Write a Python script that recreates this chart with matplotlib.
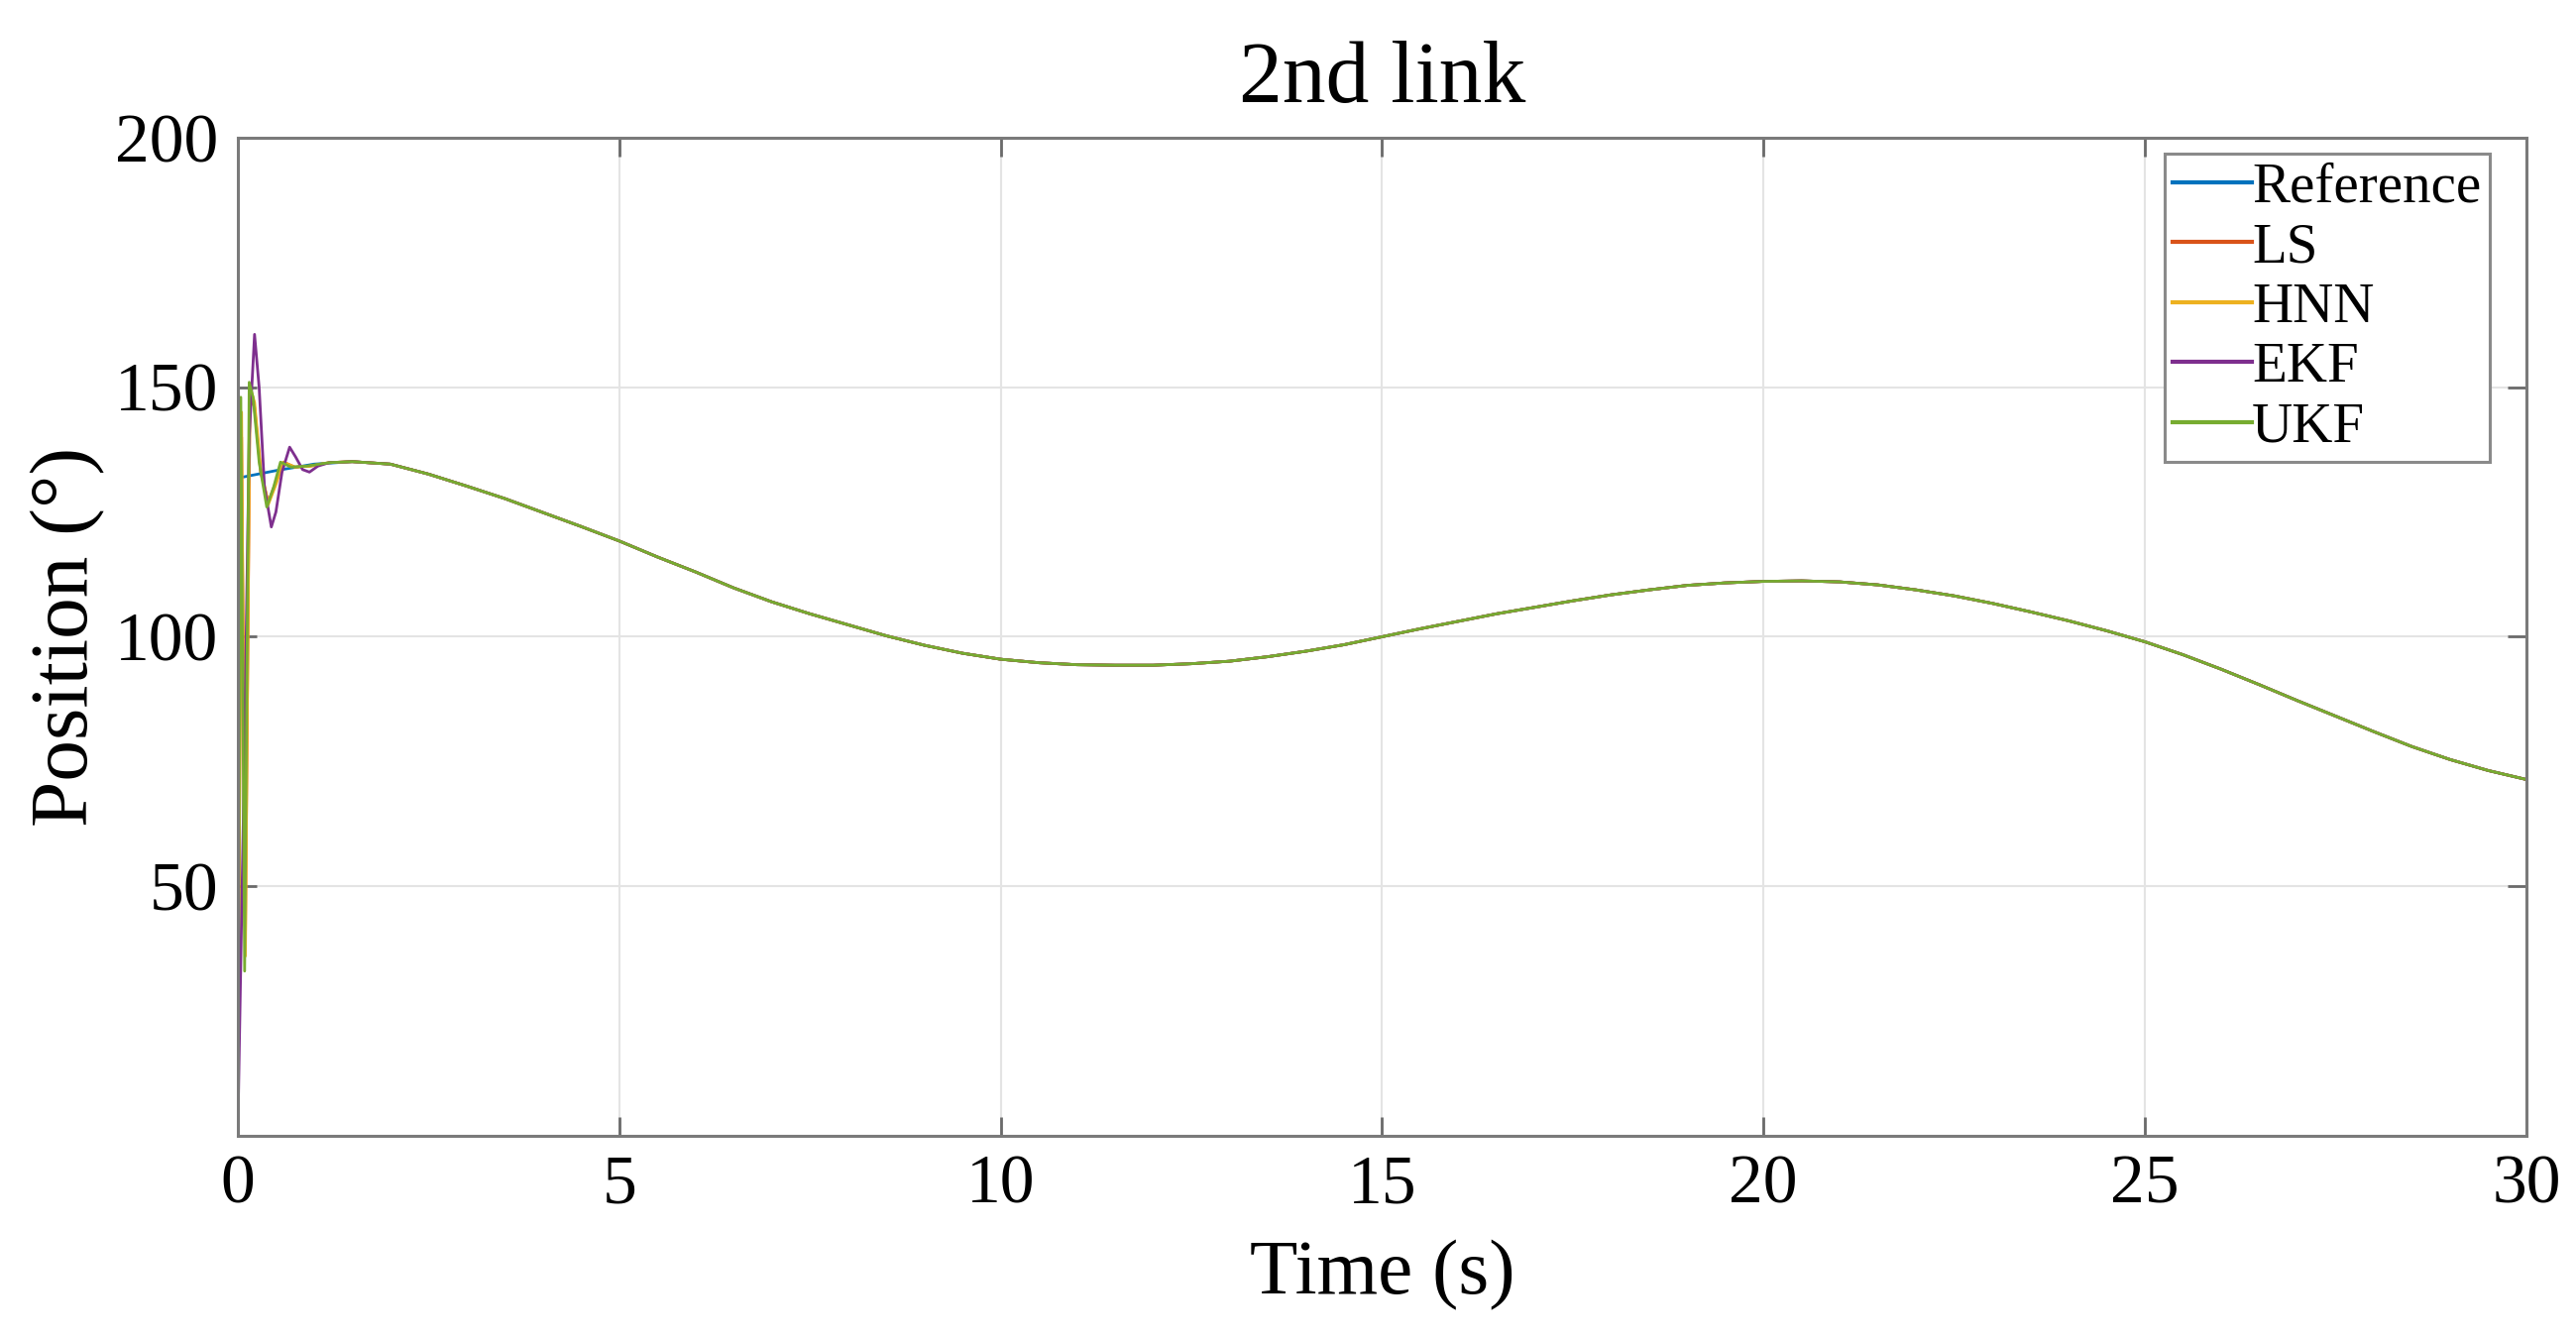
import numpy as np
import matplotlib
matplotlib.use("Agg")
import matplotlib.pyplot as plt

plt.rcParams['font.family'] = ['Liberation Serif', 'DejaVu Serif']

# common trajectory (all series overlap after the transient)
t_main = [1.5, 2.0, 2.5, 3.0, 3.5, 4.0, 4.5, 5.0, 5.5, 6.0, 6.5, 7.0, 7.5, 8.0, 8.5,
          9.0, 9.5, 10.0, 10.5, 11.0, 11.5, 12.0, 12.5, 13.0, 13.5, 14.0, 14.5, 15.0,
          15.5, 16.0, 16.5, 17.0, 17.5, 18.0, 18.5, 19.0, 19.5, 20.0, 20.5, 21.0, 21.5,
          22.0, 22.5, 23.0, 23.5, 24.0, 24.5, 25.0, 25.5, 26.0, 26.5, 27.0, 27.5, 28.0,
          28.5, 29.0, 29.5, 30.0]
pos_main = [135.1, 134.6, 132.6, 130.2, 127.7, 124.9, 122.1, 119.2, 116.0, 113.0,
            109.8, 107.0, 104.6, 102.4, 100.2, 98.3, 96.7, 95.5, 94.8, 94.4, 94.3,
            94.3, 94.6, 95.1, 96.0, 97.1, 98.4, 100.0, 101.6, 103.1, 104.6, 105.9,
            107.2, 108.4, 109.4, 110.3, 110.8, 111.1, 111.2, 111.0, 110.4, 109.4,
            108.2, 106.7, 105.0, 103.2, 101.2, 99.0, 96.4, 93.5, 90.4, 87.2, 84.1,
            81.0, 78.0, 75.4, 73.2, 71.4]

# start of each series (first ~1.3 s)
t_ref0 = [0.0, 0.5, 1.0]
pos_ref0 = [131.8, 133.3, 134.6]

t_ls0 = [0.0, 0.05, 0.1, 0.16, 0.22, 0.3, 0.4, 0.5, 0.6, 0.75, 0.95, 1.2]
pos_ls0 = [0.0, 140.0, 40.0, 148.0, 146.0, 133.0, 127.0, 131.0, 135.0, 134.0, 134.2, 134.9]

t_hnn0 = [0.0, 0.05, 0.1, 0.16, 0.22, 0.3, 0.4, 0.5, 0.6, 0.75, 0.95, 1.2]
pos_hnn0 = [0.0, 145.0, 36.0, 150.0, 147.0, 134.0, 126.5, 130.5, 135.0, 134.0, 134.2, 134.9]

t_ekf0 = [0.0, 0.08, 0.15, 0.22, 0.28, 0.35, 0.44, 0.5, 0.58, 0.68, 0.76, 0.85, 0.94, 1.05, 1.2]
pos_ekf0 = [0.0, 70.0, 140.0, 160.6, 150.0, 130.0, 122.0, 125.0, 133.0, 138.0, 136.0, 133.5, 133.0, 134.2, 134.9]

t_ukf0 = [0.0, 0.04, 0.09, 0.15, 0.2, 0.28, 0.38, 0.47, 0.56, 0.7, 0.9, 1.2]
pos_ukf0 = [0.0, 148.0, 33.0, 151.0, 148.0, 135.0, 126.0, 130.0, 135.0, 134.0, 134.2, 134.9]

names = ['Reference', 'LS', 'HNN', 'EKF', 'UKF']
colors = ['#0072BD', '#D95319', '#EDB120', '#7E2F8E', '#77AC30']
starts = [(t_ref0, pos_ref0), (t_ls0, pos_ls0), (t_hnn0, pos_hnn0),
          (t_ekf0, pos_ekf0), (t_ukf0, pos_ukf0)]

fig = plt.figure(figsize=(25.99, 13.52), dpi=100)
ax = fig.add_axes([0.0923, 0.1524, 0.8884, 0.7448])

for name, col, (t0, p0) in zip(names, colors, starts):
    ax.plot(t0 + t_main, p0 + pos_main, color=col, lw=2.0, label=name)

ax.set_xlim(0, 30)
ax.set_ylim(0, 200)
ax.set_xticks([0, 5, 10, 15, 20, 25, 30])
ax.set_yticks([50, 100, 150, 200])
ax.grid(True, color='#e4e4e4', lw=1.5)
ax.set_axisbelow(True)
for s in ax.spines.values():
    s.set_color('#7a7a7a')
    s.set_linewidth(2.2)
ax.tick_params(direction='in', length=14, width=2, color='#6a6a6a',
               top=True, right=True, labelsize=50, pad=14)

ax.set_title('2nd link', fontsize=63, pad=26)
ax.set_xlabel('Time (s)', fontsize=57, labelpad=16)
ax.set_ylabel('Position (°)', fontsize=60, labelpad=7)

leg = ax.legend(loc='upper right', bbox_to_anchor=(0.984, 0.984), borderaxespad=0,
                fontsize=41, handlelength=1.4, handletextpad=0.0, labelspacing=0.15,
                borderpad=0.15, fancybox=False, framealpha=1)
leg.get_frame().set_edgecolor('#8a8a8a')
leg.get_frame().set_linewidth(2.2)
for ln in leg.get_lines():
    ln.set_linewidth(3)

fig.savefig('out.png', dpi=100)
